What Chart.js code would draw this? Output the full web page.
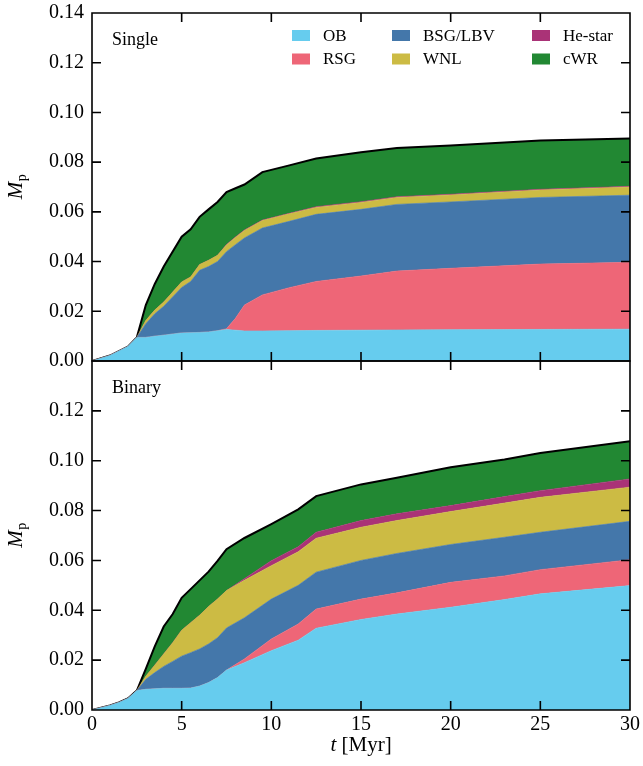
<!DOCTYPE html>
<html><head><meta charset="utf-8">
<script src="https://cdn.jsdelivr.net/npm/chart.js@4"></script>
<style>
html,body{margin:0;padding:0;background:#fff;}
#wrap{position:relative;width:643px;height:766px;overflow:hidden;}
#c1{position:absolute;left:0;top:0;}
#c2{position:absolute;left:0;top:348px;}
</style></head><body>
<div id="wrap">
<canvas id="c1" width="643" height="380"></canvas>
<canvas id="c2" width="643" height="418"></canvas>
</div>
<script>
// ---- data (stacked layer contributions, M_p) ----
const categories = ['OB', 'RSG', 'BSG/LBV', 'WNL', 'He-star', 'cWR'];
const colors = ['#66CCEE', '#EE6677', '#4477AA', '#CCBB44', '#AA3377', '#228833'];
const xTicks = [0, 5, 10, 15, 20, 25, 30];
const yTicks = [0, 0.02, 0.04, 0.06, 0.08, 0.10, 0.12, 0.14];

const tSingle   = [0, 1, 2, 2.5, 3, 3.5, 4, 5, 5.5, 6, 6.5, 7, 7.5, 8, 8.5, 9.5, 11, 12.5, 15, 17, 20, 25, 30];
const obSingle  = [0, .0022, .0058, .0095, .0095, .0100, .0104, .0113, .0114, .0115, .0117, .0122, .0127, .0124, .0121, .0121, .0122, .0123, .0124, .0125, .0126, .0127, .0128];
const rsgSingle = [0, 0, 0, 0, 0, 0, 0, 0, 0, 0, 0, 0, .0003, .0048, .0104, .0145, .0173, .0197, .0218, .0237, .0247, .0263, .0269];
const bsgSingle = [0, 0, 0, 0, .0055, .009, .0116, .0183, .0206, .025, .0263, .0278, .031, .0296, .027, .0269, .0267, .027, .0268, .0268, .0267, .0268, .027];
const wnlSingle = [0, 0, 0, 0, .0013, .0015, .0017, .0022, .0018, .0023, .0025, .0025, .0027, .0029, .003, .003, .003, .0028, .0028, .0028, .0028, .003, .0033];
const heSingle  = [0, 0, 0, 0, 0, 0, 0, 0, 0, 0, 0, 0, .0002, .0002, .0002, .0002, .0002, .0003, .0003, .0003, .0003, .0003, .0003];
const cwrSingle = [0, 0, 0, 0, .0062, .0105, .0143, .0182, .0192, .0192, .0205, .0215, .0211, .0196, .0183, .0193, .0193, .0194, .0199, .0196, .0196, .0196, .0192];

const tBinary   = [0, 1, 1.5, 2, 2.5, 3, 3.5, 4, 4.5, 5, 5.5, 6, 6.5, 7, 7.5, 8.5, 10, 11.5, 12.5, 15, 17, 20, 23, 25, 30];
const obBinary  = [0, .0018, .003, .0046, .0078, .0083, .0085, .0087, .0087, .0087, .0088, .0096, .011, .013, .016, .019, .0238, .028, .0328, .0363, .0385, .0412, .0443, .0466, .0499];
const rsgBinary = [0, 0, 0, 0, 0, 0, 0, 0, 0, 0, 0, 0, 0, 0, 0, .0015, .0047, .0065, .0077, .0082, .0085, .010, .0095, .0097, .0104];
const bsgBinary = [0, 0, 0, 0, 0, .004, .0065, .0088, .0108, .0129, .0142, .0149, .0155, .016, .0169, .0165, .016, .0155, .0148, .0155, .0158, .0152, .0155, .015, .0154];
const wnlBinary = [0, 0, 0, 0, 0, .0012, .003, .005, .0075, .0104, .012, .0135, .015, .0155, .015, .015, .0134, .0135, .0136, .0133, .0132, .0132, .0137, .014, .0137];
const heBinary  = [0, 0, 0, 0, 0, 0, 0, 0, 0, 0, 0, 0, 0, 0, 0, .0007, .002, .002, .0024, .0027, .0027, .0024, .0026, .0027, .0033];
const cwrBinary = [0, 0, 0, 0, 0, .003, .0075, .011, .0115, .013, .0135, .014, .014, .0153, .0166, .0163, .0147, .015, .0145, .0145, .0145, .0154, .0149, .0151, .0151];

const FONT = '"Liberation Serif", "Times New Roman", serif';

function makeDatasets(t, series) {
  return series.map((vals, i) => ({
    label: categories[i],
    data: vals.map((v, j) => ({x: t[j], y: v})),
    backgroundColor: colors[i],
    borderColor: i === series.length - 1 ? '#000' : colors[i],
    borderWidth: i === series.length - 1 ? 2 : 0.6,
    fill: i === 0 ? 'origin' : '-1',
    pointRadius: 0,
    tension: 0
  }));
}

const framePlugin = {
  id: 'frame',
  afterDraw(chart, args, opts) {
    const ctx = chart.ctx, a = chart.chartArea, x = chart.scales.x, y = chart.scales.y;
    ctx.save();
    ctx.strokeStyle = '#000';
    ctx.lineWidth = 1.6;
    ctx.beginPath();
    ctx.rect(a.left, a.top, a.right - a.left, a.bottom - a.top);
    yTicks.forEach(v => {
      const p = y.getPixelForValue(v);
      ctx.moveTo(a.left, p); ctx.lineTo(a.left + 9, p);
      ctx.moveTo(a.right, p); ctx.lineTo(a.right - 9, p);
    });
    xTicks.forEach(v => {
      const p = x.getPixelForValue(v);
      ctx.moveTo(p, a.bottom); ctx.lineTo(p, a.bottom - 9);
      ctx.moveTo(p, a.top); ctx.lineTo(p, a.top + 9);
    });
    ctx.stroke();

    // panel label
    ctx.fillStyle = '#000';
    ctx.font = '18px ' + FONT;
    ctx.textAlign = 'left';
    ctx.textBaseline = 'alphabetic';
    ctx.fillText(opts.label, a.left + 20, a.top + 32);

    // y-axis title M_p
    const cy = (a.top + a.bottom) / 2;
    ctx.save();
    ctx.translate(22, cy);
    ctx.rotate(-Math.PI / 2);
    ctx.font = 'italic 21px ' + FONT;
    const wM = ctx.measureText('M').width;
    ctx.font = '14px ' + FONT;
    const wp = ctx.measureText('p').width;
    const x0 = -(wM + wp) / 2;
    ctx.font = 'italic 21px ' + FONT;
    ctx.fillText('M', x0, 0);
    ctx.font = '14px ' + FONT;
    ctx.fillText('p', x0 + wM + 0.5, 4);
    ctx.restore();

    // legend
    if (opts.legend) {
      const colX = [200, 300, 440];
      const rowY = [22.5, 46];
      ctx.font = '17px ' + FONT;
      ctx.textBaseline = 'middle';
      chart.data.datasets.forEach((ds, i) => {
        const c = Math.floor(i / 2), r = i % 2;
        const bx = a.left + colX[c], by = a.top + rowY[r];
        ctx.fillStyle = ds.backgroundColor;
        ctx.fillRect(bx, by - 5.5, 18, 11);
        ctx.fillStyle = '#000';
        ctx.fillText(ds.label, bx + 31, by + 1);
      });
    }

    // x-axis title
    if (opts.xtitle) {
      ctx.textBaseline = 'alphabetic';
      ctx.font = 'italic 21px ' + FONT;
      const wt = ctx.measureText('t').width;
      ctx.font = '21px ' + FONT;
      const wr = ctx.measureText(' [Myr]').width;
      const cx = (a.left + a.right) / 2;
      const sx = cx - (wt + wr) / 2;
      const by = a.bottom + 41;
      ctx.font = 'italic 21px ' + FONT;
      ctx.fillText('t', sx, by);
      ctx.font = '21px ' + FONT;
      ctx.fillText(' [Myr]', sx + wt, by);
    }
    ctx.restore();
  }
};

function makeOptions(label, showXLabels, legend, xHeight) {
  return {
    responsive: false,
    animation: false,
    layout: {padding: {top: 13, right: 13, left: 0, bottom: 0}},
    plugins: {
      legend: {display: false},
      tooltip: {enabled: false},
      frame: {label: label, legend: legend, xtitle: showXLabels}
    },
    scales: {
      x: {
        type: 'linear', min: 0, max: 30,
        grid: {display: false, drawTicks: false},
        border: {display: false},
        ticks: {display: showXLabels, stepSize: 5, padding: 3, color: '#000',
                font: {family: FONT, size: 20}, maxRotation: 0},
        afterFit: s => { s.height = xHeight; s.paddingLeft = 0; s.paddingRight = 0; }
      },
      y: {
        stacked: true, min: 0, max: 0.14,
        grid: {display: false, drawTicks: false},
        border: {display: false},
        ticks: {stepSize: 0.02, padding: 8, color: '#000',
                font: {family: FONT, size: 20},
                callback: v => (!showXLabels || v < 0.139) ? v.toFixed(2) : ''},
        afterFit: s => { s.width = 92; s.paddingTop = 0; s.paddingBottom = 0; }
      }
    }
  };
}

new Chart(document.getElementById('c1'), {
  type: 'line',
  data: {datasets: makeDatasets(tSingle, [obSingle, rsgSingle, bsgSingle, wnlSingle, heSingle, cwrSingle])},
  options: makeOptions('Single', false, true, 19),
  plugins: [framePlugin]
});

new Chart(document.getElementById('c2'), {
  type: 'line',
  data: {datasets: makeDatasets(tBinary, [obBinary, rsgBinary, bsgBinary, wnlBinary, heBinary, cwrBinary])},
  options: makeOptions('Binary', true, false, 56),
  plugins: [framePlugin]
});
</script>
</body></html>
